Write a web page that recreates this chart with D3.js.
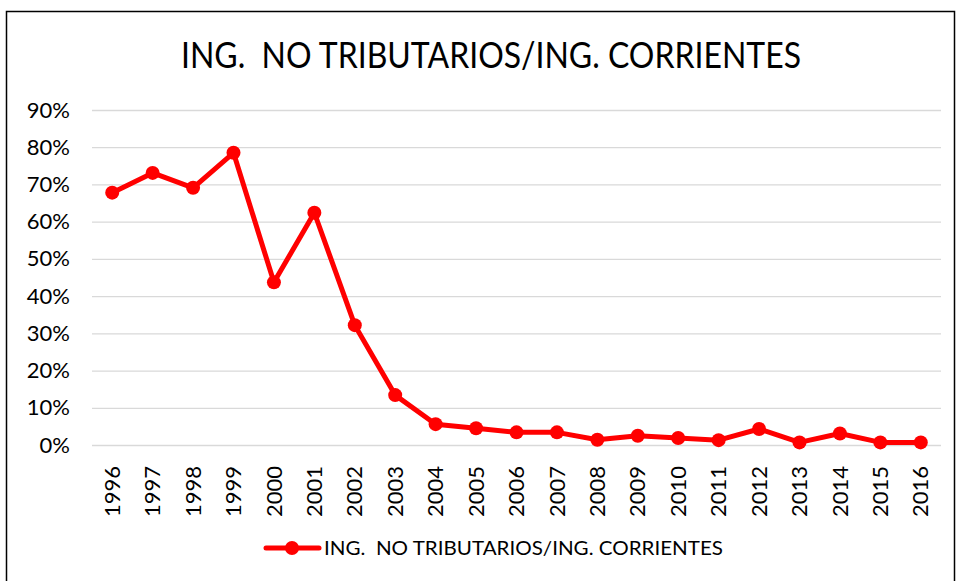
<!DOCTYPE html>
<html>
  <head>
    <meta charset="utf-8" />
    <script src="https://cdn.jsdelivr.net/npm/d3@7"></script>
    <style>
        body { margin: 0; background: #fff; }
        text { font-family: Lato, "Open Sans", sans-serif; fill: #000; }
        .tick text { font-size: 22px; }
    </style>
  </head>
  <body>
    <svg width="958" height="581"></svg>

    <script type="text/javascript">
        var years = ["1996","1997","1998","1999","2000","2001","2002","2003","2004","2005","2006",
                     "2007","2008","2009","2010","2011","2012","2013","2014","2015","2016"];
        var values = [0.678, 0.731, 0.691, 0.785, 0.437, 0.624, 0.322, 0.134, 0.056, 0.045, 0.034,
                      0.034, 0.014, 0.025, 0.019, 0.013, 0.043, 0.007, 0.031, 0.007, 0.007];
        var yTicks = [0, 0.1, 0.2, 0.3, 0.4, 0.5, 0.6, 0.7, 0.8, 0.9];
        var title = "ING.  NO TRIBUTARIOS/ING. CORRIENTES";
        var red = "#ff0000";

        var svg = d3.select("svg");

        // chart border
        svg.append("rect")
            .attr("x", 6.5).attr("y", 11.5)
            .attr("width", 948).attr("height", 600)
            .attr("fill", "none")
            .attr("stroke", "#000")
            .attr("stroke-width", 1.5);

        svg.append("text")
            .attr("x", 491).attr("y", 68)
            .attr("text-anchor", "middle")
            .attr("font-size", 36)
            .attr("textLength", 620)
            .attr("lengthAdjust", "spacingAndGlyphs")
            .style("white-space", "pre")
            .text(title);

        var x = d3.scaleBand().domain(years).range([92, 941]);
        var y = d3.scaleLinear().domain([0, 0.9]).range([445, 110]);

        var yAxis = svg.append("g")
            .attr("transform", "translate(92,0)")
            .call(d3.axisLeft(y).tickValues(yTicks).tickFormat(d3.format(".0%"))
                .tickSize(-849).tickPadding(22));
        yAxis.select(".domain").remove();
        yAxis.selectAll("line").attr("stroke", "#d9d9d9").attr("stroke-width", 1.3);
        yAxis.selectAll("text").attr("fill", "#000");

        var xAxis = svg.append("g")
            .attr("transform", "translate(0,445)")
            .call(d3.axisBottom(x).tickSize(0));
        xAxis.select(".domain").remove();
        xAxis.selectAll("text")
            .attr("fill", "#000")
            .attr("text-anchor", "end")
            .attr("dy", "0.35em")
            .attr("transform", "translate(0,21) rotate(-90)")
            .attr("y", 0).attr("x", 0);

        var line = d3.line()
            .x(function(d, i) { return x(years[i]) + x.bandwidth() / 2; })
            .y(function(d) { return y(d); });

        svg.append("path")
            .datum(values)
            .attr("d", line)
            .attr("fill", "none")
            .attr("stroke", red)
            .attr("stroke-width", 5)
            .attr("stroke-linejoin", "round");

        svg.selectAll("circle.pt")
            .data(values)
            .enter()
            .append("circle")
            .attr("class", "pt")
            .attr("cx", function(d, i) { return x(years[i]) + x.bandwidth() / 2; })
            .attr("cy", function(d) { return y(d); })
            .attr("r", 7)
            .attr("fill", red);

        // legend
        var lg = svg.append("g").attr("transform", "translate(0,548)");
        lg.append("line")
            .attr("x1", 266).attr("x2", 319)
            .attr("stroke", red).attr("stroke-width", 5)
            .attr("stroke-linecap", "round");
        lg.append("circle").attr("cx", 292).attr("r", 7).attr("fill", red);
        lg.append("text")
            .attr("x", 324).attr("y", 7)
            .attr("font-size", 20)
            .attr("textLength", 399)
            .attr("lengthAdjust", "spacingAndGlyphs")
            .style("white-space", "pre")
            .text(title);
    </script>
  </body>
</html>
